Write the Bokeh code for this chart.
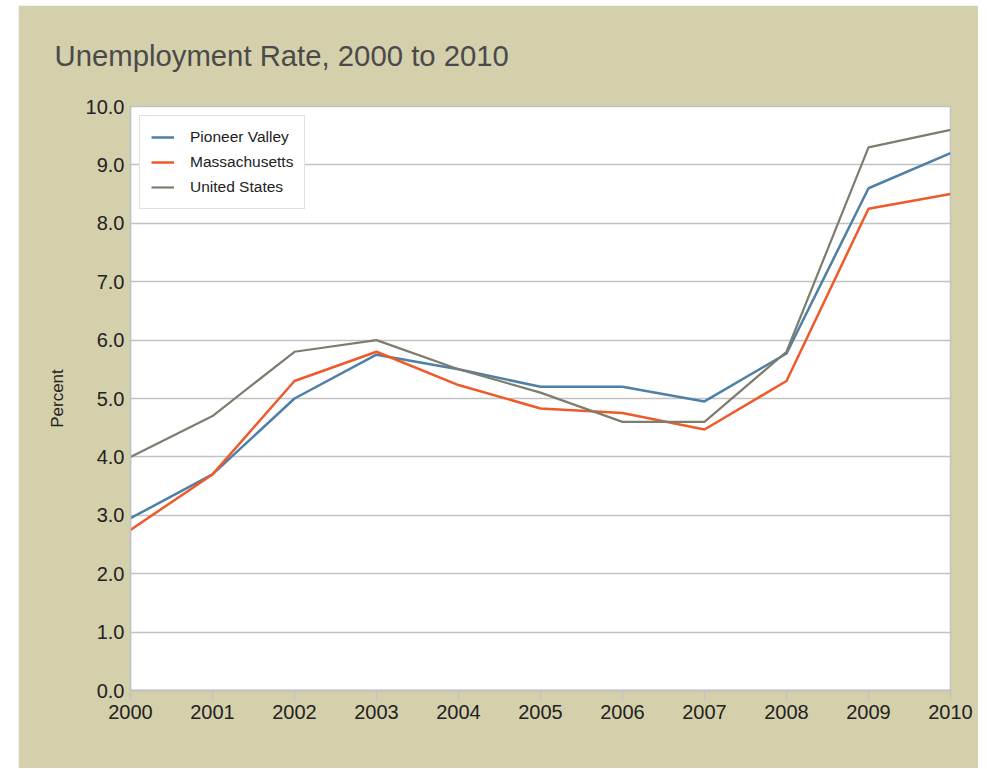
from bokeh.plotting import figure
from bokeh.models import Range1d, FixedTicker, PrintfTickFormatter, Legend, LegendItem, Title
from bokeh.embed import file_html
from bokeh.resources import INLINE

years = [2000, 2001, 2002, 2003, 2004, 2005, 2006, 2007, 2008, 2009, 2010]
pioneer_valley = [2.95, 3.7, 5.0, 5.75, 5.5, 5.2, 5.2, 4.95, 5.77, 8.6, 9.2]
massachusetts = [2.75, 3.7, 5.3, 5.8, 5.23, 4.83, 4.75, 4.47, 5.3, 8.25, 8.5]
united_states = [4.0, 4.7, 5.8, 6.0, 5.5, 5.1, 4.6, 4.6, 5.8, 9.3, 9.6]
y_ticks = [0, 1, 2, 3, 4, 5, 6, 7, 8, 9, 10]
title_text = "Unemployment Rate, 2000 to 2010"

TAN = "#d4d0ab"
GRID = "#c2c2c2"
FONT = "Liberation Sans"

p = figure(width=960, height=763, output_backend="svg", toolbar_location=None,
           x_range=Range1d(2000, 2010), y_range=Range1d(0, 10),
           min_border_left=112, min_border_right=28, min_border_top=101, min_border_bottom=78)
p.margin = (5, 0, 0, 18)
p.border_fill_color = TAN
p.background_fill_color = "white"
p.outline_line_color = GRID
p.outline_line_width = 1.5

p.title = Title(text=title_text, text_font=FONT, text_font_size="29.3px",
                text_font_style="normal", text_color="#4a4a4a", align="left",
                vertical_align="top", offset=-76, standoff=65)

r1 = p.line(years, pioneer_valley, line_color="#4e7fa6", line_width=2.5)
r2 = p.line(years, massachusetts, line_color="#ef5a2b", line_width=2.5)
r3 = p.line(years, united_states, line_color="#7d7d6e", line_width=2.2)

p.xgrid.visible = False
p.ygrid.grid_line_color = GRID
p.ygrid.grid_line_width = 1.5
p.ygrid.ticker = FixedTicker(ticks=y_ticks)

p.xaxis.ticker = FixedTicker(ticks=years)
p.yaxis.ticker = FixedTicker(ticks=y_ticks)
p.yaxis.formatter = PrintfTickFormatter(format="%.1f")
for ax in (p.xaxis, p.yaxis):
    ax.major_label_text_font = FONT
    ax.major_label_text_font_size = "20px"
    ax.major_label_text_color = "#222222"
    ax.axis_line_color = GRID
    ax.major_tick_line_color = GRID
    ax.major_tick_line_width = 1.5
    ax.minor_tick_line_color = None
    ax.major_tick_in = 0
p.xaxis.axis_line_width = 2
p.xaxis.major_tick_out = 10
p.xaxis.major_label_standoff = 4
p.yaxis.axis_line_width = 1.5
p.yaxis.major_tick_out = 0
p.yaxis.major_label_standoff = 6
p.yaxis.axis_label = "Percent"
p.yaxis.axis_label_text_font = FONT
p.yaxis.axis_label_text_font_size = "17px"
p.yaxis.axis_label_text_font_style = "normal"
p.yaxis.axis_label_text_color = "#222222"
p.yaxis.axis_label_standoff = 16

legend = Legend(items=[LegendItem(label="Pioneer Valley", renderers=[r1]),
                       LegendItem(label="Massachusetts", renderers=[r2]),
                       LegendItem(label="United States", renderers=[r3])],
                location="top_left", margin=9, padding=11, spacing=5,
                glyph_width=23, glyph_height=20, label_height=20, label_standoff=16,
                label_text_font=FONT, label_text_font_size="15.5px", label_text_color="#222222",
                border_line_color=GRID, border_line_width=1.5, background_fill_color="white",
                background_fill_alpha=1.0)
p.add_layout(legend)

open("out.html", "w").write(file_html(p, INLINE))
